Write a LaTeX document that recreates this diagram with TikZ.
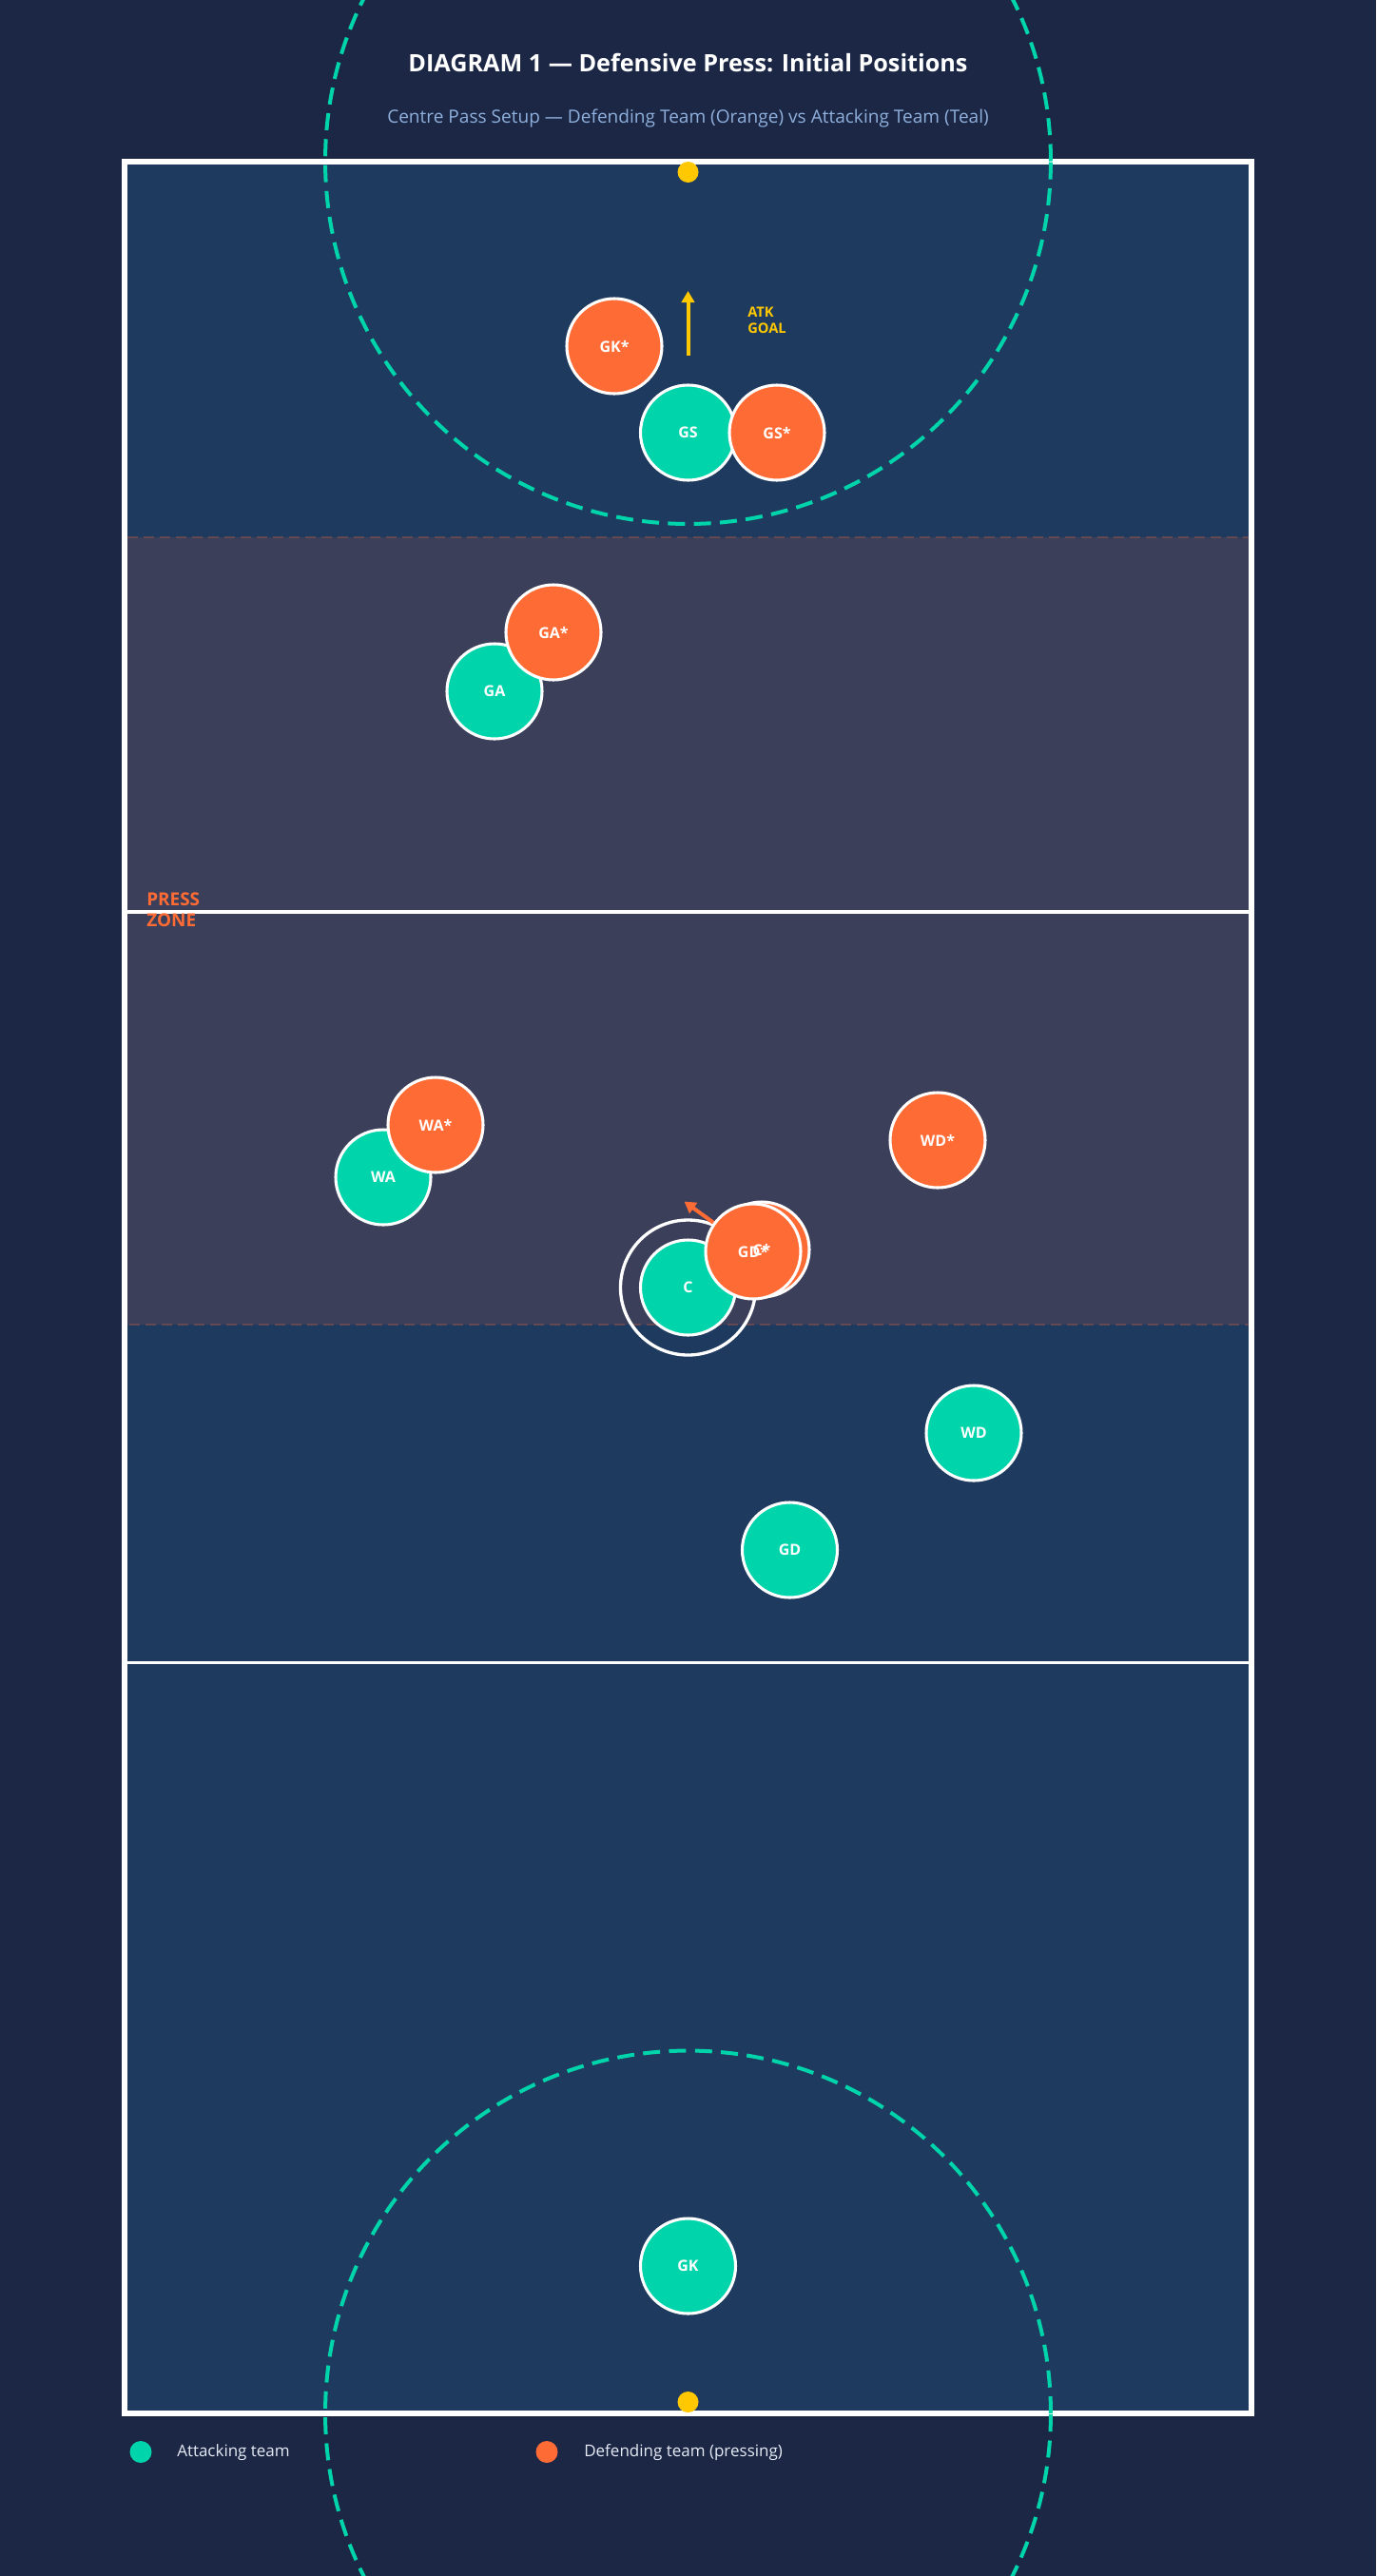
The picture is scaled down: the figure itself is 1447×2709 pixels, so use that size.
\documentclass[tikz,border=0pt]{standalone}
\usepackage{fontspec}
\setmainfont{Open Sans}
\usetikzlibrary{arrows.meta}
\definecolor{bgc}{HTML}{1B2745}
\definecolor{courtc}{HTML}{1F3A5F}
\definecolor{pressc}{HTML}{3B3F5A}
\definecolor{tealc}{HTML}{00D4AA}
\definecolor{orngc}{HTML}{FF6B35}
\definecolor{yelc}{HTML}{FFC800}
\definecolor{subtc}{HTML}{8FB0DC}
\definecolor{legc}{HTML}{E6EBF5}
\begin{document}
\begin{tikzpicture}[x=0.75pt,y=-0.75pt,
  player/.style={circle, minimum size=75pt, inner sep=0pt, draw=white, line width=2.3pt},
  att/.style={player, fill=tealc},
  def/.style={player, fill=orngc},
  lbl/.style={text=white, inner sep=0pt, font=\bfseries\fontsize{12}{14}\selectfont},
  goalarc/.style={draw=tealc, line width=3pt, dash pattern=on 13.5pt off 7pt},
  post/.style={circle, fill=yelc, minimum size=16.5pt, inner sep=0pt},
  legdot/.style={circle, minimum size=17.25pt, inner sep=0pt},
  legtxt/.style={text=legc, inner sep=0pt, anchor=base west, font=\fontsize{12.75}{15}\selectfont},
  movearrow/.style={line width=3pt, -{Triangle[length=9pt,width=10pt]}}
]
\useasboundingbox (0,0) rectangle (1447,2709);
\fill[bgc] (0,0) rectangle (1447,2709);
% court
\fill[courtc] (131,169.5) rectangle (1316,2538);
\fill[pressc] (131,565) rectangle (1316,1393);
\draw[orngc, opacity=0.25, line width=1.9pt, dash pattern=on 8.25pt off 4.5pt] (131,565) rectangle (1316,1393);
\draw[white, line width=2.6pt] (131,959) -- (1316,959) (131,1748.5) -- (1316,1748.5);
\draw[white, line width=4.5pt] (131,169.5) rectangle (1316,2538);
% goal circles
\begin{scope}
\clip (0,0) rectangle (1447,2709);
\draw[goalarc] (723.5,169.5) circle[radius=286.1pt];
\draw[goalarc] (723.5,2538) circle[radius=286.1pt];
\end{scope}
\node[post] (posttop) at (723.5,181) {};
\node[post] (postbot) at (723.5,2526) {};
% titles
\node[text=white, inner sep=0pt, anchor=base, font=\bfseries\fontsize{18.9}{23}\selectfont] (title) at (723.5,75.7) {DIAGRAM 1 — Defensive Press: Initial Positions};
\node[text=subtc, inner sep=0pt, anchor=base, font=\fontsize{14.3}{17}\selectfont] (subtitle) at (723.5,129.3) {Centre Pass Setup — Defending Team (Orange) vs Attacking Team (Teal)};
% attack direction
\coordinate (atkfrom) at (723.5,374);
\coordinate (atkto) at (723.5,306);
\draw[yelc, movearrow] (atkfrom) -- (atkto);
\node[text=yelc, inner sep=0pt, anchor=west, align=left, font=\bfseries\fontsize{11}{12.75}\selectfont] (atkgoal) at (786,337) {ATK\\GOAL};
% press zone label
\node[text=orngc, inner sep=0pt, anchor=west, align=left, font=\bfseries\fontsize{14.2}{16.2}\selectfont] (presszone) at (154,957) {PRESS\\ZONE};
% attackers
\node[att] (gs) at (723.5,455) {};
\node[att] (ga) at (520,727) {};
\node[att] (wa) at (403,1238) {};
\node[draw=white, line width=2.5pt, circle, minimum size=106.5pt, inner sep=0pt] (cring) at (723.5,1354) {};
\node[att] (c) at (723.5,1354) {};
\node[att] (wd) at (1024,1507) {};
\node[att] (gd) at (830.5,1630) {};
\node[att] (gk) at (723.5,2383) {};
% press movement arrow
\coordinate (gdsc) at (792,1316);
\coordinate (pressto) at (719.5,1263.5);
\draw[orngc, movearrow] (gdsc) -- (pressto);
% defenders
\node[def] (gks) at (646,364) {};
\node[def] (gss) at (817,455) {};
\node[def] (gas) at (582,665) {};
\node[def] (was) at (458,1183) {};
\node[def] (wds) at (986,1199) {};
\node[def] (cs) at (801,1314) {};
\node[def] (gds) at (792,1316) {};
% labels
\node[lbl] at (gs) {GS};
\node[lbl] at (ga) {GA};
\node[lbl] at (wa) {WA};
\node[lbl] at (c) {C};
\node[lbl] at (wd) {WD};
\node[lbl] at (gd) {GD};
\node[lbl] at (gk) {GK};
\node[lbl] at (gks) {GK*};
\node[lbl] at (gss) {GS*};
\node[lbl] at (gas) {GA*};
\node[lbl] at (was) {WA*};
\node[lbl] at (wds) {WD*};
\node[lbl] at (cs) {C*};
\node[lbl] at (gds) {GD*};
% legend
\node[legdot, fill=tealc] (legatt) at (148,2578.5) {};
\node[legtxt] (legatttxt) at (186,2583.5) {Attacking team};
\node[legdot, fill=orngc] (legdef) at (575,2578.5) {};
\node[legtxt] (legdeftxt) at (614,2583.5) {Defending team (pressing)};
\end{tikzpicture}
\end{document}
